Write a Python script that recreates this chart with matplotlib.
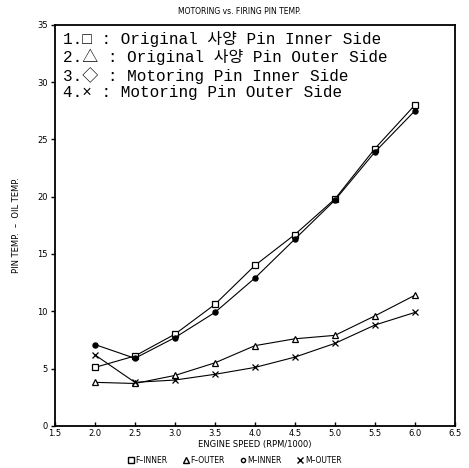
import matplotlib
matplotlib.use("Agg")
import matplotlib.pyplot as plt
from matplotlib.lines import Line2D

# Engine speed (RPM/1000) and pin-minus-oil temperature for each case
speed = [2.0, 2.5, 3.0, 3.5, 4.0, 4.5, 5.0, 5.5, 6.0]
f_inner = [5.1, 6.1, 8.0, 10.6, 14.0, 16.7, 19.8, 24.2, 28.0]
f_outer = [3.8, 3.7, 4.4, 5.5, 7.0, 7.6, 7.9, 9.6, 11.4]
m_inner = [7.1, 5.9, 7.7, 9.9, 12.9, 16.3, 19.7, 23.9, 27.5]
m_outer = [6.2, 3.8, 4.0, 4.5, 5.1, 6.0, 7.2, 8.8, 9.9]

x_ticks = [1.5, 2.0, 2.5, 3.0, 3.5, 4.0, 4.5, 5.0, 5.5, 6.0, 6.5]
y_ticks = [0, 5, 10, 15, 20, 25, 30, 35]

legend_lines = [
    "1.\u25a1 : Original \uc0ac\uc591 Pin Inner Side",
    "2.\u25b3 : Original \uc0ac\uc591 Pin Outer Side",
    "3.\u25c7 : Motoring Pin Inner Side",
    "4.\u00d7 : Motoring Pin Outer Side",
]
short_names = ["F\u2013INNER", "F\u2013OUTER", "M\u2013INNER", "M\u2013OUTER"]

fig = plt.figure(figsize=(4.69, 4.68), dpi=100)
ax = fig.add_axes([0.117, 0.09, 0.853, 0.857])

lw = 0.8
ax.plot(speed, f_inner, color="black", lw=lw, marker="s", ms=4.5,
        mfc="white", mec="black", mew=0.9)
ax.plot(speed, m_inner, color="black", lw=lw, marker="o", ms=3.6,
        mfc="black", mec="black")
ax.plot(speed, f_outer, color="black", lw=lw, marker="^", ms=5,
        mfc="white", mec="black", mew=0.9)
ax.plot(speed, m_outer, color="black", lw=lw, marker="x", ms=4.5,
        mec="black", mew=0.9)

ax.set_xlim(1.5, 6.5)
ax.set_ylim(0, 35)
ax.set_xticks(x_ticks)
ax.set_xticklabels([f"{v:.1f}" for v in x_ticks])
ax.set_yticks(y_ticks)
ax.tick_params(axis="both", labelsize=6, length=3, width=1.0, pad=2)
ax.tick_params(axis="y", direction="out")
ax.tick_params(axis="x", direction="in")
for sp in ax.spines.values():
    sp.set_linewidth(1.3)

ax.set_xlabel("ENGINE SPEED (RPM/1000)", fontsize=6, labelpad=2)
ax.set_ylabel("PIN TEMP.  \u2013  OIL TEMP.", fontsize=6, labelpad=12)
fig.text(0.51, 0.975, "MOTORING vs. FIRING PIN TEMP.", ha="center",
         va="center", fontsize=5.5)

# Numbered key in the upper-left corner of the plot
for i, line in enumerate(legend_lines):
    ax.text(0.02, 0.985 - i * 0.045, line, transform=ax.transAxes,
            ha="left", va="top", fontsize=11.5,
            family=["Liberation Mono", "Noto Sans CJK KR", "DejaVu Sans"])

# Marker key under the axis title
handles = [
    Line2D([], [], ls="none", marker="s", ms=4, mfc="white", mec="black"),
    Line2D([], [], ls="none", marker="^", ms=4, mfc="white", mec="black"),
    Line2D([], [], ls="none", marker="o", ms=3, mfc="white", mec="black"),
    Line2D([], [], ls="none", marker="x", ms=4, mec="black"),
]
fig.legend(handles, short_names, loc="center", bbox_to_anchor=(0.5, 0.016),
           ncol=4, frameon=False, fontsize=5.5, handletextpad=0.2,
           columnspacing=2.0, handlelength=0.8)

fig.savefig("out.png", dpi=100)
